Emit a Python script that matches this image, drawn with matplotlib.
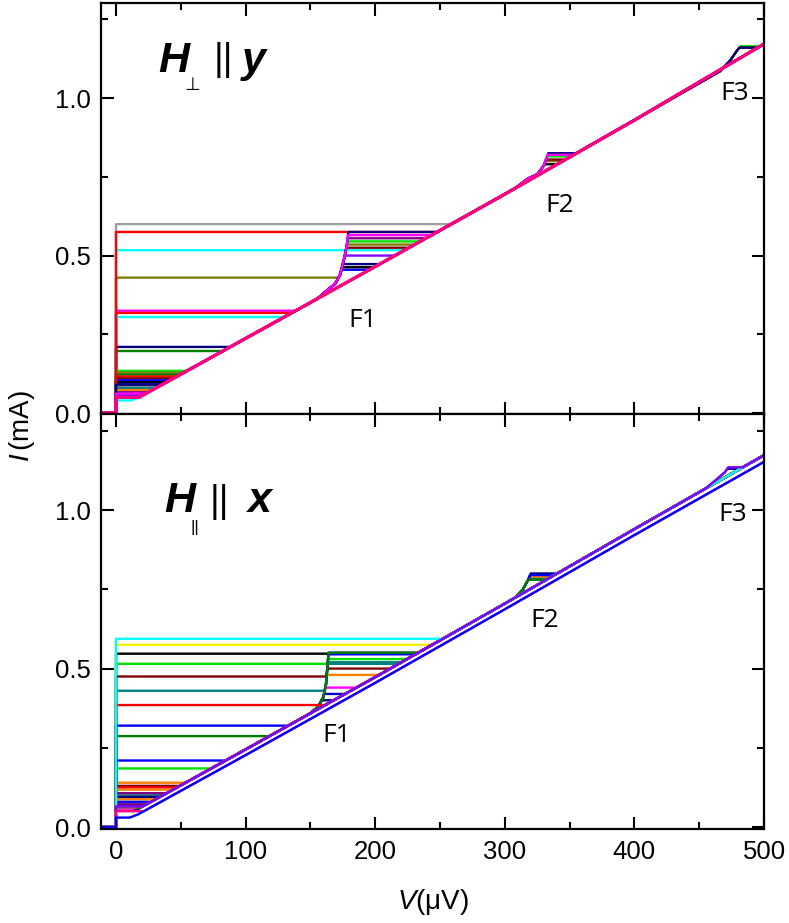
import numpy as np
import matplotlib.pyplot as plt
from matplotlib.ticker import MultipleLocator

plt.rcParams['font.family'] = ['Liberation Sans', 'DejaVu Sans']
plt.rcParams['mathtext.fontset'] = 'custom'
plt.rcParams['mathtext.it'] = 'Liberation Sans:italic'
plt.rcParams['mathtext.rm'] = 'Liberation Sans'

# origin-like palette
C = {'k': '#000000', 'r': '#FF0000', 'b': '#0000FF', 'g': '#00E000', 'm': '#FF00FF',
     'c': '#00FFFF', 'y': '#F0F000', 'olive': '#808000', 'navy': '#000080',
     'purple': '#800080', 'wine': '#800000', 'teal': '#008080', 'royal': '#0000C0',
     'orange': '#FF8000', 'violet': '#8000FF', 'pink': '#FF0080', 'gray': '#A0A0A0',
     'dg': '#008000', 'w': '#FFFFFF'}

# ---- top panel (H_perp || y) ----
top_branch_v = np.array([1, 3, 8, 17, 100, 200, 300, 400, 500])
top_branch_i = np.array([0.0, 0.02, 0.035, 0.048, 0.237, 0.465, 0.695, 0.93, 1.172])
top_knee_v = [155, 163, 169, 173, 176, 178, 180]
top_knee_i = [0.362, 0.39, 0.41, 0.44, 0.49, 0.53, 0.60]
top_f2_v = [308, 318, 325, 330, 334]
top_f2_i = [0.714, 0.745, 0.758, 0.785, 0.83]
top_f3_v = [466, 474, 479, 483]
top_f3_i = [1.085, 1.12, 1.15, 1.17]

top_ic = [0.600, 0.517, 0.430, 0.325, 0.318, 0.305, 0.210, 0.197, 0.134, 0.128, 0.122,
          0.116, 0.110, 0.104, 0.098, 0.092, 0.086, 0.080, 0.073, 0.066, 0.058, 0.040,
          0.575, 0.090, 0.062, 0.050]
top_step = [0, 0, 0.535, 0, 0, 0, 0.473, 0, 0.545, 0, 0,
            0, 0.525, 0.455, 0.463, 0, 0, 0, 0, 0.555, 0.50, 0,
            0, 0.575, 0.565, 0]
top_f2 = [0, 0, 0.80, 0, 0, 0, 0, 0, 0.815, 0, 0,
          0, 0.805, 0, 0.79, 0, 0, 0, 0, 0, 0, 0,
          0, 0.825, 0.82, 0]
top_f3 = [0, 0, 0, 0, 0, 0, 0, 0, 1.165, 0, 0,
          0, 1.16, 0, 0, 0, 0, 0, 0, 0, 0, 0,
          0, 1.16, 0, 0]
top_col = ['gray', 'c', 'olive', 'm', 'r', 'c', 'navy', 'dg', 'g', 'olive', 'dg',
           'r', 'wine', 'b', 'k', 'royal', 'gray', 'teal', 'orange', 'purple', 'violet', 'c',
           'r', 'navy', 'm', 'pink']

# ---- bottom panel (H_par || x) ----
bot_branch_v = np.array([1, 3, 8, 17, 100, 200, 300, 400, 500])
bot_branch_i = np.array([0.0, 0.025, 0.042, 0.057, 0.245, 0.473, 0.705, 0.94, 1.173])
bot_low_i = np.array([0.0, 0.010, 0.026, 0.040, 0.227, 0.455, 0.687, 0.921, 1.152])
bot_knee_v = [150, 156, 160, 162, 163, 164, 165]
bot_knee_i = [0.359, 0.38, 0.41, 0.45, 0.50, 0.55, 0.60]
bot_f2_v = [308, 314, 318, 321]
bot_f2_i = [0.724, 0.75, 0.78, 0.81]
bot_f3_v = [455, 463, 470, 474]
bot_f3_i = [1.068, 1.095, 1.12, 1.145]

bot_ic = [0.575, 0.547, 0.515, 0.475, 0.430, 0.140, 0.100, 0.095, 0.080, 0.058,
          0.070, 0.050, 0.287, 0.385, 0.320, 0.210, 0.185, 0.130, 0.125, 0.118, 0.107, 0.088,
          0.072, 0.062, 0.594, 0.065, 0.045, 0.050, 0.030]
bot_step = [0, 0, 0.53, 0.50, 0.515, 0.48, 0.52, 0.55, 0.545, 0.44,
            0.42, 0.40, 0.55, 0, 0, 0, 0, 0, 0, 0, 0, 0,
            0, 0, 0, 0, 0, 0, 0]
bot_f2 = [0, 0, 0, 0, 0.785, 0.79, 0, 0.80, 0.795, 0,
          0, 0, 0.78, 0, 0, 0, 0, 0, 0, 0, 0, 0,
          0, 0, 0, 0, 0, 0, 0]
bot_f3 = [0, 0, 0, 0, 0, 0, 0, 1.13, 0, 0,
          0, 0, 0, 0, 0, 0, 0, 0, 0, 0, 0, 0,
          0, 0, 0, 1.135, 0, 0, 0]
bot_low = [0] * 26 + [1, 1, 1]
bot_col = ['y', 'k', 'g', 'wine', 'teal', 'orange', 'teal', 'navy', 'b', 'm',
           'royal', 'navy', 'dg', 'r', 'b', 'b', 'g', 'wine', 'r', 'orange', 'purple', 'orange',
           'purple', 'olive', 'c', 'violet', 'w', 'pink', 'b']


def along(bv, bi, v0, v1):
    m = (bv > v0) & (bv < v1)
    return list(bv[m]), list(bi[m])


def rise(rv, ri, lo, top):
    rv = np.asarray(rv, float)
    ri = np.asarray(ri, float)
    m = (ri > lo) & (ri < top)
    return list(rv[m]) + [np.interp(top, ri, rv)], list(ri[m]) + [top]


def make_curve(ic, step, f2, f3, bv, bi, knee, bump2, bump3):
    V = [-12.0, 0.0, 0.0]
    I = [0.0, 0.0, ic]
    cur = ic
    if step > ic:
        kv, ki = knee
        if ic < ki[0]:
            vj = np.interp(ic, bi, bv)
            V.append(vj); I.append(ic)
            a, b = along(bv, bi, vj, kv[0]); V += a; I += b
            a, b = rise(kv, ki, -1, step)
        else:
            V.append(np.interp(ic, ki, kv)); I.append(ic)
            a, b = rise(kv, ki, ic, step)
        V += a; I += b
        cur = step
    v0 = np.interp(cur, bi, bv)
    V.append(v0); I.append(cur)
    for top, (rv, ri) in ((f2, bump2), (f3, bump3)):
        if top:
            a, b = along(bv, bi, v0, rv[0]); V += a; I += b
            a, b = rise(rv, ri, -1, top); V += a; I += b
            v0 = np.interp(top, bi, bv)
            V.append(v0); I.append(top)
    a, b = along(bv, bi, v0, 501); V += a; I += b
    return V, I


fig = plt.figure(figsize=(7.89, 9.23), dpi=100)
ax1 = fig.add_axes([101/789, 1-414/923, 663/789, 411/923])
ax2 = fig.add_axes([101/789, 1-829/923, 663/789, 415/923])

n = len(top_ic)
for k in range(n):
    V, I = make_curve(top_ic[k], top_step[k], top_f2[k], top_f3[k], top_branch_v, top_branch_i,
                      (top_knee_v, top_knee_i), (top_f2_v, top_f2_i), (top_f3_v, top_f3_i))
    ax1.plot(V, I, color=C[top_col[k]], lw=2.4 if k == n-1 else 1.7)

for k in range(len(bot_ic)):
    bi = bot_low_i if bot_low[k] else bot_branch_i
    V, I = make_curve(bot_ic[k], bot_step[k], bot_f2[k], bot_f3[k], bot_branch_v, bi,
                      (bot_knee_v, bot_knee_i), (bot_f2_v, bot_f2_i), (bot_f3_v, bot_f3_i))
    ax2.plot(V, I, color=C[bot_col[k]], lw=1.7)

for ax in (ax1, ax2):
    ax.set_xlim(-11.6, 500)
    ax.xaxis.set_major_locator(MultipleLocator(100))
    ax.xaxis.set_minor_locator(MultipleLocator(50))
    ax.yaxis.set_major_locator(MultipleLocator(0.5))
    ax.yaxis.set_minor_locator(MultipleLocator(0.25))
    ax.tick_params(which='both', direction='in', top=True, right=True, width=1.5, labelsize=18.5)
    ax.tick_params(which='major', length=9)
    ax.tick_params(which='minor', length=5)
    ax.tick_params(axis='y', pad=7)
    ax.tick_params(axis='x', pad=8)
    for s in ax.spines.values():
        s.set_linewidth(1.6)
ax1.set_ylim(-0.003, 1.302)
ax2.set_ylim(-0.006, 1.303)
ax1.tick_params(labelbottom=False)

fF = dict(family='Open Sans', fontsize=19, ha='center', va='center')
ax1.text(190.6, 0.295, 'F1', **fF)
ax1.text(342.6, 0.66, 'F2', **fF)
ax1.text(477.6, 1.016, 'F3', **fF)
ax2.text(170.5, 0.289, 'F1', **fF)
ax2.text(331, 0.651, 'F2', **fF)
ax2.text(476, 0.987, 'F3', **fF)


def px(x, y):
    return x/789, 1-y/923


bi_font = dict(fontsize=31, fontweight='bold', style='italic', va='baseline')
fig.text(*px(158, 72), 'H', **bi_font)
fig.text(*px(184, 90), '\u22a5', family='DejaVu Sans', fontsize=13, va='baseline')
fig.text(*px(214, 70), '||', fontsize=27, va='baseline')
fig.text(*px(242, 72), 'y', **bi_font)

fig.text(*px(164, 512), 'H', **bi_font)
fig.text(*px(190, 532), '||', fontsize=12, va='baseline')
fig.text(*px(210, 512), '||', fontsize=27, va='baseline')
fig.text(*px(248, 512), 'x', **bi_font)

fig.text(*px(22, 426), '$I\\,$(mA)', rotation=90, fontsize=20, ha='center', va='center')
fig.text(*px(433, 902), '$V$(\u03bcV)', fontsize=20, ha='center', va='center')

fig.savefig('out.png', dpi=100)
